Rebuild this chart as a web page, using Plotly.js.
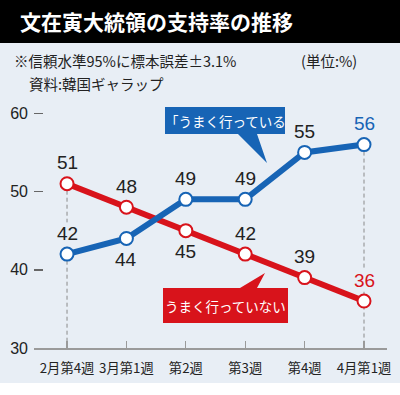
<!DOCTYPE html>
<html>
<head>
<meta charset="utf-8">
<script src="https://cdn.plot.ly/plotly-3.0.1.min.js"></script>
<style>html,body{margin:0;padding:0;background:#fff;}#chart{width:400px;height:395px;}</style>
</head>
<body>
<div id="chart"></div>
<script>
// ---- data ----
const categories = ["2月第4週", "3月第1週", "第2週", "第3週", "第4週", "4月第1週"];
const positiveValues = [42, 44, 49, 49, 55, 56];   // うまく行っている
const negativeValues = [51, 48, 45, 42, 39, 36];   // うまく行っていない
const yTickValues = [30, 40, 50, 60];
const titleText = "文在寅大統領の支持率の推移";
const noteText = "※信頼水準95%に標本誤差±3.1%";
const unitText = "(単位:%)";
const sourceText = "資料:韓国ギャラップ";
const positiveName = "「うまく行っている";
const negativeName = "うまく行っていない";

// ---- style ----
const BLUE = "#1764b5", RED = "#d8131b", BG = "#e8eef5", INK = "#222";
const CJK = "'Noto Sans CJK JP', sans-serif";
const NUM = "'Liberation Sans', Arial, sans-serif";
const W = 400, H = 395, L = 34, R = 13, T = 82, B = 47;
const xr = [-0.556, categories.length - 1 + 0.387];
const yr = [30, 64];
const px2p = px => (px - L) / (W - L - R);
const py2p = py => (H - B - py) / (H - T - B);
const blueSide = [1, -1, 1, 1, 1, 1];
const redSide = [1, 1, -1, 1, 1, 1];

const xs = categories.map((c, i) => i);
const traces = [];
// dashed guides at first and last category
[0, categories.length - 1].forEach(i => {
  traces.push({
    x: [xs[i], xs[i]], y: [Math.max(positiveValues[i], negativeValues[i]), yr[0]],
    mode: "lines", line: {color: "#8a8a8a", width: 1, dash: "4px,3px"},
    hoverinfo: "skip", showlegend: false
  });
});
traces.push({
  x: xs, y: negativeValues, mode: "lines+markers", name: negativeName,
  line: {color: RED, width: 6},
  marker: {size: 13, color: "#fff", line: {color: RED, width: 2}},
  showlegend: false
});
traces.push({
  x: xs, y: positiveValues, mode: "lines+markers", name: positiveName,
  line: {color: BLUE, width: 6},
  marker: {size: 13, color: "#fff", line: {color: BLUE, width: 2}},
  showlegend: false
});

const annotations = [];
const last = categories.length - 1;
function addLabels(vals, sides, color) {
  vals.forEach((v, i) => {
    const edge = (i === 0 || i === last);
    annotations.push({
      x: xs[i], y: v, xref: "x", yref: "y", text: String(v), showarrow: false,
      yshift: 21 * sides[i], yanchor: "middle", xanchor: "center",
      font: {family: NUM, size: 19, color: i === last ? color : INK},
      bgcolor: edge ? BG : "rgba(0,0,0,0)", borderpad: 0
    });
  });
}
addLabels(positiveValues, blueSide, BLUE);
addLabels(negativeValues, redSide, RED);

// notes
annotations.push({xref: "paper", yref: "paper", x: px2p(12), y: py2p(61), xanchor: "left", yanchor: "middle",
  text: noteText, showarrow: false, font: {family: CJK, size: 14.5, color: INK}});
annotations.push({xref: "paper", yref: "paper", x: px2p(299), y: py2p(61), xanchor: "left", yanchor: "middle",
  text: unitText, showarrow: false, font: {family: CJK, size: 14.5, color: INK}});
annotations.push({xref: "paper", yref: "paper", x: px2p(27), y: py2p(83), xanchor: "left", yanchor: "middle",
  text: sourceText, showarrow: false, font: {family: CJK, size: 14.5, color: INK}});
// callout texts
annotations.push({xref: "paper", yref: "paper", x: px2p(225), y: py2p(121), xanchor: "center", yanchor: "middle",
  text: positiveName, showarrow: false, font: {family: CJK, size: 13.5, color: "#fff"}});
annotations.push({xref: "paper", yref: "paper", x: px2p(225.5), y: py2p(306), xanchor: "center", yanchor: "middle",
  text: negativeName, showarrow: false, font: {family: CJK, size: 13.5, color: "#fff"}});

function pathOf(pts) {
  return "M" + pts.map(p => px2p(p[0]).toFixed(5) + "," + py2p(p[1]).toFixed(5)).join(" L") + " Z";
}
const shapes = [
  {type: "rect", xref: "paper", yref: "paper", x0: px2p(-2), x1: px2p(402), y0: py2p(-2), y1: py2p(43),
   fillcolor: "#000", line: {width: 0}, layer: "below"},
  {type: "rect", xref: "paper", yref: "paper", x0: px2p(-2), x1: px2p(402), y0: py2p(383), y1: py2p(397),
   fillcolor: "#fff", line: {width: 0}, layer: "below"},
  {type: "path", xref: "paper", yref: "paper", fillcolor: BLUE, line: {width: 0},
   path: pathOf([[165,107],[285,107],[285,134],[257,134],[267,163],[238,134],[165,134]])},
  {type: "path", xref: "paper", yref: "paper", fillcolor: RED, line: {width: 0},
   path: pathOf([[163,288],[240,288],[265,273],[257,288],[288,288],[288,323],[163,323]])}
];

const layout = {
  width: W, height: H,
  margin: {l: L, r: R, t: T, b: B, pad: 0},
  paper_bgcolor: BG, plot_bgcolor: BG,
  title: {text: titleText, x: 20 / W, xanchor: "left", xref: "container",
          y: 1 - 23 / H, yanchor: "middle", yref: "container",
          font: {family: CJK, size: 21, color: "#fff", weight: "bold"}},
  xaxis: {range: xr, tickvals: xs, ticktext: categories, showgrid: false, zeroline: false,
          showline: true, linecolor: "#9a9a9a", linewidth: 2, tickangle: 0,
          ticks: "inside", ticklen: 7, tickwidth: 1.2, tickcolor: "#9a9a9a",
          tickfont: {family: CJK, size: 13.3, color: INK}, ticklabelstandoff: 7, fixedrange: true},
  yaxis: {range: yr, tickvals: yTickValues, showgrid: false, zeroline: false, showline: false,
          ticks: "inside", ticklen: 9, tickwidth: 1.5, tickcolor: "#666",
          tickfont: {family: NUM, size: 16, color: INK},
          ticklabelstandoff: 5, fixedrange: true},
  shapes: shapes,
  annotations: annotations,
  showlegend: false
};
Plotly.newPlot("chart", traces, layout, {staticPlot: true, displayModeBar: false});
</script>
</body>
</html>
